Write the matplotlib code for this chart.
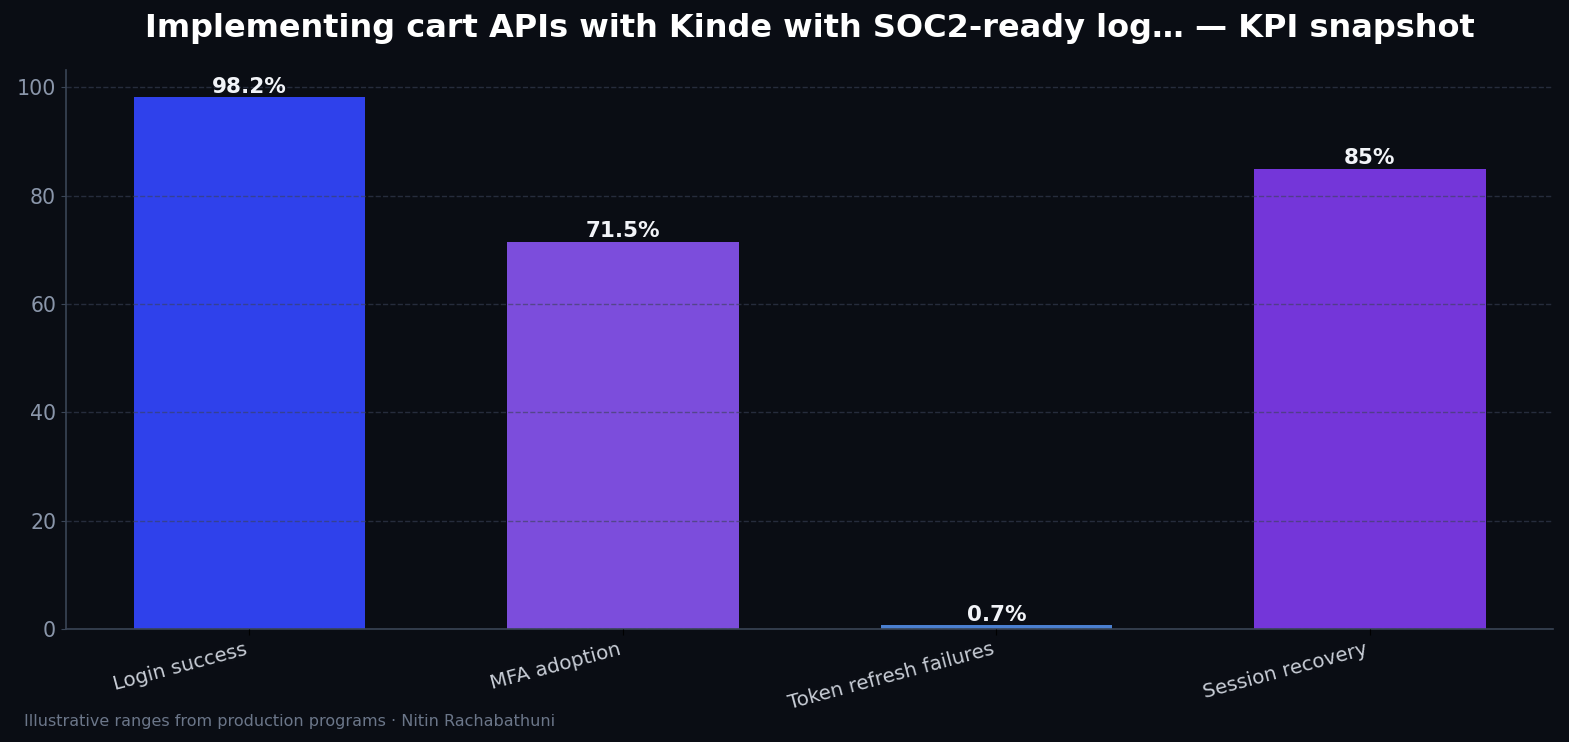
import matplotlib.pyplot as plt

categories = ["Login success", "MFA adoption", "Token refresh failures", "Session recovery"]
values = [98.2, 71.5, 0.7, 85]
labels = ["98.2%", "71.5%", "0.7%", "85%"]
colors = ["#2f41eb", "#7c4ddc", "#4a7fd0", "#7436d9"]

BG = "#0a0d14"


def main() -> None:
    fig, ax = plt.subplots(figsize=(15.69, 7.42), dpi=100)
    fig.patch.set_facecolor(BG)
    ax.set_facecolor(BG)

    x = range(len(categories))
    bars = ax.bar(x, values, width=0.62, color=colors, zorder=1)
    ax.set_axisbelow(False)
    ax.grid(axis="y", linestyle="--", color="#3a4258", alpha=0.6, linewidth=1, zorder=2)
    ax.set_ylim(0, max(values) * 1.05)

    for b, lab in zip(bars, labels):
        ax.text(b.get_x() + b.get_width() / 2, b.get_height() + 0.1, lab,
                ha="center", va="bottom", color="#f2f4f8", fontsize=15.5, fontweight="bold", zorder=3)

    ax.set_xticks(list(x))
    ax.set_xticklabels(categories, rotation=15, ha="right", color="#c8cdd6", fontsize=14.3)
    ax.tick_params(axis="x", colors="#000000", labelcolor="#c8cdd6", length=4)
    ax.tick_params(axis="y", colors="#3a4556", labelcolor="#8a96aa", labelsize=14.8)

    for side in ("top", "right"):
        ax.spines[side].set_visible(False)
    for side in ("left", "bottom"):
        ax.spines[side].set_color("#3a4556")
        ax.spines[side].set_linewidth(1.2)

    ax.set_title("Implementing cart APIs with Kinde with SOC2-ready log… — KPI snapshot",
                 color="#ffffff", fontsize=23, fontweight="bold", pad=24)
    fig.text(0.015, 0.022, "Illustrative ranges from production programs · Nitin Rachabathuni",
             color="#6b7689", fontsize=11.5)

    fig.subplots_adjust(left=0.042, right=0.99, top=0.905, bottom=0.152)
    fig.savefig("out.png", dpi=100, facecolor=BG)
    plt.close(fig)


if __name__ == "__main__":
    main()
